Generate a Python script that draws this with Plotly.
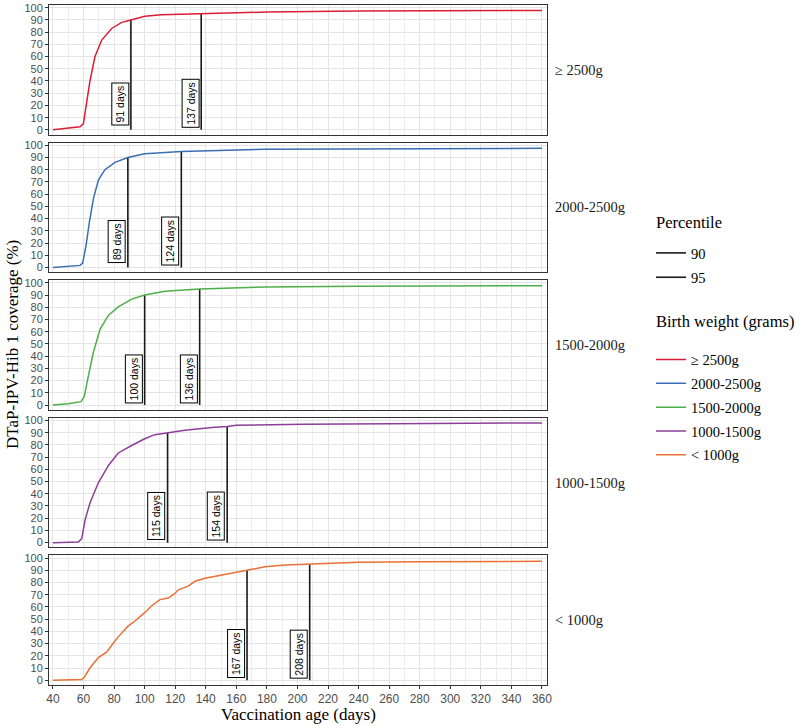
import plotly.graph_objects as go
from plotly.subplots import make_subplots

# ---- data ----
groups = ["≥ 2500g", "2000-2500g", "1500-2000g", "1000-1500g", "< 1000g"]
colors = ["#D91E36", "#3A6EB2", "#4DAF4A", "#8E3E9A", "#EA7035"]

days_ge2500 = [40, 50, 57.7, 59.9, 62, 64.2, 67.5, 71.9, 78.4, 85, 91, 100, 111, 137, 180, 240, 300, 360]
cov_ge2500 = [0, 1.2, 2.5, 5, 21, 40, 60, 73.5, 83, 88, 90, 92.9, 94.2, 95, 96.4, 97.2, 97.6, 97.8]

days_2000 = [40, 50, 57.7, 59.4, 61.6, 63.8, 66.4, 69.7, 74, 80.6, 89, 100, 124, 179, 240, 300, 360]
cov_2000 = [0, 0.8, 1.7, 3.6, 17.5, 37, 56, 71.5, 80, 86, 90, 93, 95, 96.8, 97.2, 97.4, 97.5]

days_1500 = [40, 50, 58.3, 60.5, 63.1, 66.4, 70.8, 76.2, 82.7, 91.5, 100, 113.3, 136, 179, 240, 300, 360]
cov_1500 = [0, 1, 2.8, 7, 23.5, 43, 62, 73.4, 80.3, 86.7, 90, 93.2, 95, 96.6, 97.2, 97.5, 97.7]

days_1000 = [40, 56.6, 58.8, 61, 64.2, 69.7, 76.2, 82.7, 91.5, 100, 106.7, 115, 126.4, 143.9, 154, 160, 205, 260, 320, 360]
cov_1000 = [0, 0.5, 3.3, 18.5, 32.4, 49, 63, 73.4, 79.5, 85, 88.4, 90, 92, 94.2, 95, 96.1, 97, 97.4, 97.7, 98]

days_lt1000 = [40, 58.8, 60.5, 64.2, 69.7, 75.1, 78.4, 82.7, 89.3, 93.7, 100.2, 104.6, 110, 115.5, 119.8,
               122, 128.5, 132.9, 139.5, 150.4, 159.1, 167, 178.7, 191.8, 208, 231, 240, 280, 320, 360]
cov_lt1000 = [0, 0.5, 2.5, 10, 18.5, 23, 28.6, 35.5, 44.5, 48.5, 55.5, 61, 66, 67.3, 71,
              74, 77, 81, 83.5, 86, 88.4, 90, 92.8, 94.3, 95, 95.9, 96.5, 97, 97.2, 97.3]

p90_days = [91, 89, 100, 115, 167]
p95_days = [137, 124, 136, 154, 208]
percentiles = [90, 95]

x_ticks = list(range(40, 361, 20))
y_ticks = list(range(0, 101, 10))

all_days = [days_ge2500, days_2000, days_1500, days_1000, days_lt1000]
all_cov = [cov_ge2500, cov_2000, cov_1500, cov_1000, cov_lt1000]

# ---- figure ----
W, H = 800, 726
ml, mr, mt, mb = 49, 253, 2, 41
plot_w = W - ml - mr
plot_h = H - mt - mb


def px_x(px):
    return (px - ml) / plot_w


def px_y(py):
    return 1 - (py - mt) / plot_h


fig = make_subplots(rows=5, cols=1, vertical_spacing=8 / plot_h, shared_xaxes=False)

SERIF = "Liberation Serif"
SANS = "Liberation Sans"

for i in range(5):
    r = i + 1
    # percentile lines
    for p, dlist in zip(percentiles, [p90_days, p95_days]):
        d = dlist[i]
        fig.add_trace(go.Scatter(
            x=[d, d], y=[0, p], mode="lines",
            line=dict(color="#1A1A1A", width=1.6),
            name=str(p), legend="legend", legendgroup="p%d" % p,
            showlegend=(i == 0), hoverinfo="skip"), row=r, col=1)
    # coverage curve
    fig.add_trace(go.Scatter(
        x=all_days[i], y=all_cov[i], mode="lines",
        line=dict(color=colors[i], width=1.5),
        name=groups[i], legend="legend2", legendgroup="g%d" % i,
        showlegend=True), row=r, col=1)
    # labels
    for dlist in [p90_days, p95_days]:
        d = dlist[i]
        fig.add_annotation(
            x=d, y=21.5, xref="x%d" % r if r > 1 else "x", yref="y%d" % r if r > 1 else "y",
            text="%d days" % d, textangle=-90, showarrow=False,
            xanchor="right", yanchor="middle", xshift=-2,
            font=dict(family=SANS, size=10.5, color="#000000"),
            bgcolor="white", bordercolor="#000000", borderwidth=1, borderpad=2)
    # strip label
    fig.add_annotation(
        x=1.012, xref="paper", xanchor="left",
        y=0.5, yref="y%d domain" % r if r > 1 else "y domain", yanchor="middle",
        text=groups[i], showarrow=False,
        font=dict(family=SERIF, size=14.5, color="#1A1A1A"))

axis_common = dict(showline=True, mirror=True, linecolor="#333333", linewidth=1,
                   zeroline=False, gridcolor="#E4E4E4", gridwidth=1)

for i in range(5):
    r = i + 1
    fig.update_xaxes(
        range=[37.4, 363.3], tickvals=x_ticks, showticklabels=(r == 5),
        ticks="outside" if r == 5 else "", ticklen=3, tickcolor="#333333",
        tickfont=dict(family=SANS, size=12, color="#4D4D4D"),
        minor=dict(dtick=10, tick0=30, showgrid=True, gridcolor="#EDEDED", gridwidth=0.8, ticks=""),
        **axis_common, row=r, col=1)
    fig.update_yaxes(
        range=[-3.9, 102.2], tickvals=y_ticks, ticks="outside", ticklen=3,
        tickcolor="#333333", tickfont=dict(family=SANS, size=11, color="#4D4D4D"),
        **axis_common, row=r, col=1)

# axis titles
fig.add_annotation(
    x=px_x(12), xref="paper", xanchor="center",
    y=0.5, yref="paper", yanchor="middle", textangle=-90,
    text="DTaP-IPV-Hib 1 coverage (%)", showarrow=False,
    font=dict(family=SERIF, size=17, color="#000000"))
fig.add_annotation(
    x=0.5, xref="paper", xanchor="center",
    y=px_y(715), yref="paper", yanchor="middle",
    text="Vaccination age (days)", showarrow=False,
    font=dict(family=SERIF, size=17, color="#000000"))

# legend titles
fig.add_annotation(
    x=px_x(654), xref="paper", xanchor="left", y=px_y(220), yref="paper", yanchor="middle",
    text="Percentile", showarrow=False,
    font=dict(family=SERIF, size=16.5, color="#000000"))
fig.add_annotation(
    x=px_x(654), xref="paper", xanchor="left", y=px_y(320), yref="paper", yanchor="middle",
    text="Birth weight (grams)", showarrow=False,
    font=dict(family=SERIF, size=16.5, color="#000000"))

fig.update_layout(
    width=W, height=H,
    margin=dict(l=ml, r=mr, t=mt, b=mb),
    plot_bgcolor="white", paper_bgcolor="white",
    legend=dict(
        x=px_x(651), xanchor="left", y=px_y(235), yanchor="top",
        font=dict(family=SERIF, size=14.5, color="#000000"),
        tracegroupgap=2.5, bgcolor="rgba(0,0,0,0)"),
    legend2=dict(
        x=px_x(651), xanchor="left", y=px_y(342), yanchor="top",
        font=dict(family=SERIF, size=14.5, color="#000000"),
        tracegroupgap=2, bgcolor="rgba(0,0,0,0)"),
)

fig.write_html("out.html", config={"displayModeBar": False},
               post_script="document.body.style.margin='0px';document.body.style.overflow='hidden';")
